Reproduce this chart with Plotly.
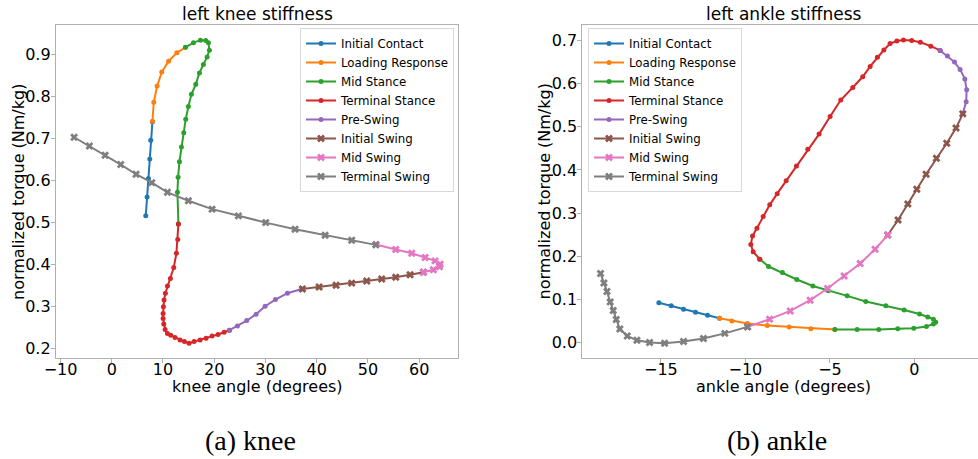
import plotly.graph_objects as go

# ---------------- knee data ----------------
phases = ["Initial Contact", "Loading Response", "Mid Stance", "Terminal Stance",
          "Pre-Swing", "Initial Swing", "Mid Swing", "Terminal Swing"]
colors = ["#1f77b4", "#ff7f0e", "#2ca02c", "#d62728",
          "#9467bd", "#8c564b", "#e377c2", "#7f7f7f"]

knee_ic_x = [6.64, 6.90, 7.16, 7.42, 7.61, 7.94]
knee_ic_y = [0.516, 0.561, 0.605, 0.651, 0.696, 0.740]
knee_lr_x = [7.94, 8.20, 8.85, 9.76, 11.10, 12.70, 14.40]
knee_lr_y = [0.741, 0.786, 0.825, 0.858, 0.884, 0.904, 0.917]
knee_ms_x = [14.38, 15.94, 17.31, 18.35, 18.87, 19.06, 18.61, 17.89, 17.11, 16.40,
             15.55, 14.96, 14.44, 14.05, 13.60, 13.21, 12.95, 12.82, 13.01]
knee_ms_y = [0.917, 0.928, 0.934, 0.933, 0.928, 0.910, 0.894, 0.876, 0.856, 0.829,
             0.805, 0.776, 0.746, 0.714, 0.680, 0.645, 0.608, 0.572, 0.4965]
knee_ts_x = [13.01, 12.88, 12.62, 12.10, 11.45, 10.87, 10.47, 10.21, 10.08, 10.02,
             10.02, 10.15, 10.41, 10.87, 11.52, 12.36, 13.34, 14.18, 15.09, 16.07,
             17.24, 18.41, 19.58, 20.75, 21.93, 22.97]
knee_ts_y = [0.4965, 0.460, 0.427, 0.393, 0.367, 0.349, 0.332, 0.316, 0.300, 0.284,
             0.272, 0.259, 0.246, 0.236, 0.232, 0.227, 0.221, 0.217, 0.213, 0.217,
             0.221, 0.225, 0.230, 0.234, 0.239, 0.244]
knee_ps_x = [22.97, 24.53, 26.35, 28.17, 29.93, 31.95, 34.29, 37.09]
knee_ps_y = [0.244, 0.254, 0.267, 0.282, 0.301, 0.317, 0.332, 0.342]
knee_isw_x = [37.22, 40.47, 43.79, 46.84, 49.77, 52.70, 55.43, 58.23, 60.83]
knee_isw_y = [0.342, 0.347, 0.351, 0.356, 0.361, 0.366, 0.370, 0.376, 0.382]
knee_msw_x = [60.83, 62.78, 63.96, 64.09, 63.11, 61.16, 58.56, 55.43, 51.59]
knee_msw_y = [0.382, 0.388, 0.395, 0.401, 0.409, 0.417, 0.427, 0.436, 0.448]
knee_tsw_x = [51.53, 46.84, 41.64, 35.78, 30.06, 24.72, 19.58, 14.96, 10.87, 7.81,
              4.75, 1.76, -1.30, -4.36, -7.35]
knee_tsw_y = [0.447, 0.458, 0.470, 0.484, 0.500, 0.516, 0.532, 0.552, 0.572, 0.595,
              0.615, 0.638, 0.660, 0.682, 0.703]

# ---------------- ankle data ----------------
ank_ic_x = [-15.12, -14.39, -13.66, -12.95, -12.24, -11.53]
ank_ic_y = [0.092, 0.085, 0.077, 0.070, 0.063, 0.056]
ank_lr_x = [-11.53, -10.80, -9.88, -8.71, -7.41, -6.13, -4.71]
ank_lr_y = [0.056, 0.050, 0.044, 0.039, 0.036, 0.032, 0.030]
ank_ms_x = [-4.71, -3.39, -2.11, -0.99, -0.04, 0.71, 1.12, 1.26, 1.12, 0.79, 0.30,
            -0.61, -1.69, -2.88, -3.98, -5.09, -6.01, -6.96, -7.81, -8.63, -9.15]
ank_ms_y = [0.030, 0.030, 0.030, 0.032, 0.033, 0.037, 0.043, 0.047, 0.054, 0.059, 0.066,
            0.075, 0.085, 0.095, 0.108, 0.120, 0.131, 0.146, 0.162, 0.176, 0.193]
ank_ts_x = [-9.15, -9.54, -9.68, -9.58, -9.32, -8.95, -8.56, -8.12, -7.59, -6.98,
            -6.31, -5.64, -4.99, -4.36, -3.65, -3.06, -2.62, -2.19, -1.81, -1.44,
            -1.04, -0.65, -0.16, 0.35, 0.97, 1.52]
ank_ts_y = [0.193, 0.210, 0.227, 0.247, 0.265, 0.292, 0.319, 0.345, 0.375, 0.409,
            0.448, 0.483, 0.524, 0.562, 0.591, 0.616, 0.640, 0.661, 0.678, 0.693,
            0.699, 0.701, 0.700, 0.696, 0.687, 0.677]
ank_ps_x = [1.52, 1.95, 2.37, 2.70, 2.98, 3.09, 3.06, 2.86]
ank_ps_y = [0.677, 0.664, 0.650, 0.633, 0.611, 0.586, 0.558, 0.531]
ank_isw_x = [2.86, 2.46, 1.91, 1.30, 0.69, 0.14, -0.39, -0.97, -1.58]
ank_isw_y = [0.530, 0.497, 0.462, 0.427, 0.390, 0.355, 0.321, 0.284, 0.249]
ank_msw_x = [-1.58, -2.33, -3.21, -4.16, -5.14, -6.17, -7.35, -8.57, -9.86]
ank_msw_y = [0.249, 0.216, 0.183, 0.154, 0.125, 0.098, 0.073, 0.054, 0.036]
ank_tsw_x = [-9.88, -11.22, -12.48, -13.66, -14.78, -15.67, -16.42, -16.99, -17.43,
             -17.64, -17.82, -18.00, -18.19, -18.37, -18.57]
ank_tsw_y = [0.036, 0.021, 0.009, 0.002, -0.002, 0.000, 0.005, 0.015, 0.031,
             0.053, 0.074, 0.094, 0.118, 0.138, 0.160]

knee_tick_x = [-10, 0, 10, 20, 30, 40, 50, 60]
knee_tick_y = [0.2, 0.3, 0.4, 0.5, 0.6, 0.7, 0.8, 0.9]
ank_tick_x = [-15, -10, -5, 0]
ank_tick_y = [0.0, 0.1, 0.2, 0.3, 0.4, 0.5, 0.6, 0.7]

knee_series = [(knee_ic_x, knee_ic_y), (knee_lr_x, knee_lr_y), (knee_ms_x, knee_ms_y),
               (knee_ts_x, knee_ts_y), (knee_ps_x, knee_ps_y), (knee_isw_x, knee_isw_y),
               (knee_msw_x, knee_msw_y), (knee_tsw_x, knee_tsw_y)]
ank_series = [(ank_ic_x, ank_ic_y), (ank_lr_x, ank_lr_y), (ank_ms_x, ank_ms_y),
              (ank_ts_x, ank_ts_y), (ank_ps_x, ank_ps_y), (ank_isw_x, ank_isw_y),
              (ank_msw_x, ank_msw_y), (ank_tsw_x, ank_tsw_y)]

W, H = 978, 459
FONT = "DejaVu Sans"

fig = go.Figure()


def add_series(series, xa, ya, legend):
    for i, (xs, ys) in enumerate(series):
        swing = i >= 5
        fig.add_trace(go.Scatter(
            x=xs, y=ys, mode="lines+markers", name=phases[i],
            line=dict(color=colors[i], width=2),
            marker=dict(color=colors[i], size=7 if swing else 5,
                        symbol="x" if swing else "circle", line=dict(width=0)),
            xaxis=xa, yaxis=ya, legend=legend))


add_series(knee_series, "x", "y", "legend")
add_series(ank_series, "x2", "y2", "legend2")

ydom = [1 - 358.4 / H, 1 - 25 / H]
axis_common = dict(showgrid=False, zeroline=False, showline=True, linecolor="#b0b0b0",
                   linewidth=1, ticks="outside", ticklen=4, tickcolor="#b0b0b0",
                   automargin=False,
                   tickfont=dict(family=FONT, size=16, color="black"))

legend_common = dict(xanchor="left", yanchor="top", bgcolor="rgba(255,255,255,0.8)",
                     bordercolor="#d8d8d8", borderwidth=1,
                     font=dict(family=FONT, size=11.8, color="black"), tracegroupgap=0)

fig.update_layout(
    template="none",
    width=W, height=H, margin=dict(l=0, r=0, t=0, b=0, pad=0), autosize=False,
    paper_bgcolor="white", plot_bgcolor="white",
    font=dict(family=FONT, color="black"),
    xaxis=dict(domain=[55.8 / W, 458.4 / W], range=[-10.92, 67.66], anchor="y",
               tickvals=knee_tick_x, mirror=True, ticklabelstandoff=-8, **axis_common),
    yaxis=dict(domain=ydom, range=[0.177, 0.970], anchor="x",
               tickvals=knee_tick_y, tickformat=".1f", mirror=True,
               ticklabelstandoff=-3, **axis_common),
    xaxis2=dict(domain=[582.3 / W, 1.0], range=[-19.65, 3.76], anchor="y2",
                tickvals=ank_tick_x, mirror=True, ticklabelstandoff=-8, **axis_common),
    yaxis2=dict(domain=ydom, range=[-0.037, 0.736], anchor="x2",
                tickvals=ank_tick_y, tickformat=".1f", mirror=False,
                ticklabelstandoff=-3, **axis_common),
    legend=dict(x=300 / W, y=1 - 28 / H, **legend_common),
    legend2=dict(x=588 / W, y=1 - 28 / H, **legend_common),
    showlegend=True,
)


def ann(text, x, y, size, family=FONT, angle=0):
    fig.add_annotation(text=text, x=x / W, y=1 - y / H, xref="paper", yref="paper",
                       showarrow=False, xanchor="center", yanchor="middle",
                       textangle=angle, font=dict(family=family, size=size, color="black"))


ann("left knee stiffness", 257, 14, 17)
ann("left ankle stiffness", 783.5, 14, 17)
ann("knee angle (degrees)", 257, 386, 16)
ann("ankle angle (degrees)", 783.5, 386, 16)
ann("normalized torque (Nm/kg)", 18, 192, 16, angle=-90)
ann("normalized torque (Nm/kg)", 543.5, 192, 16, angle=-90)
ann("(a) knee", 250, 440, 28, family="Liberation Serif")
ann("(b) ankle", 777, 440, 28, family="Liberation Serif")

fig.write_html(
    "out.html",
    config={"displayModeBar": False},
    post_script="document.body.style.margin='0';document.body.style.padding='0';"
                "document.body.style.overflow='hidden';",
)
